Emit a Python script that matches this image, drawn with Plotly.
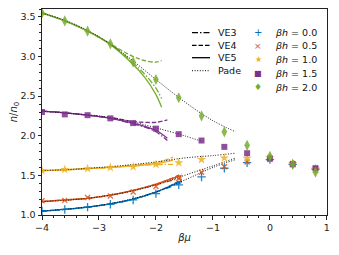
import plotly.graph_objects as go

# ---------------- data ----------------
beta_mu = [-4.0, -3.6, -3.2, -2.8, -2.4, -2.0, -1.6, -1.2, -0.8, -0.4, 0.0, 0.4, 0.8]
n_h00 = [1.05, 1.07, 1.10, 1.135, 1.19, 1.27, 1.38, 1.48, 1.59, 1.66, 1.70, 1.64, 1.58]
n_h05 = [1.18, 1.185, 1.22, 1.24, 1.29, 1.36, 1.46, 1.54, 1.61, 1.67, 1.70, 1.65, 1.59]
n_h10 = [1.56, 1.575, 1.585, 1.60, 1.61, 1.64, 1.66, 1.70, 1.72, 1.715, 1.72, 1.65, 1.58]
n_h15 = [2.30, 2.27, 2.26, 2.22, 2.16, 2.09, 2.02, 1.94, 1.86, 1.78, 1.715, 1.64, 1.59]
n_h20 = [3.55, 3.45, 3.32, 3.16, 2.93, 2.71, 2.48, 2.25, 2.05, 1.88, 1.74, 1.64, 1.54]

# virial expansions (VE3, VE4, VE5)
ve_x_low = [-4.0, -3.6, -3.2, -2.8, -2.4, -2.0, -1.8, -1.55]
ve3_h00 = [1.05, 1.07, 1.10, 1.14, 1.20, 1.29, 1.34, 1.41]
ve4_h00 = [1.05, 1.07, 1.10, 1.14, 1.20, 1.29, 1.35, 1.45]
ve5_h00 = [1.05, 1.07, 1.10, 1.14, 1.20, 1.29, 1.35, 1.43]
ve3_h05 = [1.17, 1.19, 1.21, 1.25, 1.31, 1.38, 1.42, 1.47]
ve4_h05 = [1.17, 1.19, 1.21, 1.25, 1.31, 1.39, 1.44, 1.52]
ve5_h05 = [1.17, 1.19, 1.21, 1.25, 1.31, 1.39, 1.44, 1.50]

ve_x_mid = [-4.0, -3.6, -3.2, -2.8, -2.4, -2.0, -1.7]
ve3_h10 = [1.56, 1.57, 1.585, 1.60, 1.62, 1.635, 1.64]
ve4_h10 = [1.56, 1.57, 1.585, 1.60, 1.63, 1.66, 1.73]
ve5_h10 = [1.56, 1.57, 1.585, 1.60, 1.62, 1.65, 1.69]

ve_x_h15 = [-4.0, -3.6, -3.2, -2.8, -2.4, -2.2, -2.0, -1.8]
ve3_h15 = [2.31, 2.29, 2.26, 2.22, 2.15, 2.11, 2.05, 1.94]
ve4_h15 = [2.31, 2.29, 2.26, 2.23, 2.18, 2.17, 2.17, 2.20]
ve5_h15 = [2.31, 2.29, 2.26, 2.22, 2.16, 2.12, 2.07, 1.97]

ve_x_h20 = [-4.0, -3.6, -3.2, -2.8, -2.4, -2.2, -2.0, -1.9]
ve3_h20 = [3.55, 3.45, 3.32, 3.16, 2.92, 2.78, 2.60, 2.47]
ve4_h20 = [3.55, 3.45, 3.32, 3.16, 3.00, 2.95, 2.93, 2.95]
ve5_h20 = [3.55, 3.45, 3.32, 3.15, 2.90, 2.74, 2.52, 2.36]

# Pade approximants
pade_x = [-4.0, -3.5, -3.0, -2.5, -2.0, -1.5, -1.0, -0.6]
pade_h00 = [1.05, 1.08, 1.12, 1.19, 1.29, 1.44, 1.60, 1.70]
pade_h05 = [1.17, 1.19, 1.23, 1.29, 1.38, 1.50, 1.62, 1.72]
pade_h10 = [1.56, 1.575, 1.60, 1.63, 1.67, 1.72, 1.75, 1.78]
pade_h20 = [3.55, 3.43, 3.25, 3.00, 2.71, 2.43, 2.19, 2.05]
pade_x_h15 = [-4.0, -3.5, -3.0, -2.5, -2.0, -1.5, -1.2]
pade_h15 = [2.31, 2.28, 2.25, 2.19, 2.10, 2.00, 1.93]

labels = ["<i>βh</i> = 0.0", "<i>βh</i> = 0.5", "<i>βh</i> = 1.0",
          "<i>βh</i> = 1.5", "<i>βh</i> = 2.0"]
line_labels = ["VE3", "VE4", "VE5", "Pade"]
colors = ["#0072BD", "#D95319", "#EDB120", "#7E2F8E", "#77AC30"]
symbols = ["cross-thin", "x-thin", "star", "square", "diamond-tall"]
glyphs = ["+", "×", "★", "■", "♦"]
sizes = [6, 5, 7, 6, 8]

DASH_VE3 = "6px,2px,1.5px,2px"
DASH_VE4 = "4.5px,2px"
DASH_PADE = "1px,1.6px"

series = [
    (ve_x_low, ve3_h00, ve4_h00, ve5_h00, pade_x, pade_h00, n_h00),
    (ve_x_low, ve3_h05, ve4_h05, ve5_h05, pade_x, pade_h05, n_h05),
    (ve_x_mid, ve3_h10, ve4_h10, ve5_h10, pade_x, pade_h10, n_h10),
    (ve_x_h15, ve3_h15, ve4_h15, ve5_h15, pade_x_h15, pade_h15, n_h15),
    (ve_x_h20, ve3_h20, ve4_h20, ve5_h20, pade_x, pade_h20, n_h20),
]

fig = go.Figure()

# VE lines
for (vx, v3, v4, v5, px, pv, nv), c in zip(series, colors):
    for vals, dash in ((v3, DASH_VE3), (v4, DASH_VE4), (v5, "solid")):
        fig.add_trace(go.Scatter(x=vx, y=vals, mode="lines", showlegend=False,
                                 line=dict(color=c, width=1.3, dash=dash, shape="spline")))

# Pade lines
for (vx, v3, v4, v5, px, pv, nv) in series:
    fig.add_trace(go.Scatter(x=px, y=pv, mode="lines", showlegend=False,
                             line=dict(color="#111111", width=1.0, dash=DASH_PADE, shape="spline")))

# markers
for (vx, v3, v4, v5, px, pv, nv), c, s, sz, lab in zip(series, colors, symbols, sizes, labels):
    thin = s.endswith("-thin")
    fig.add_trace(go.Scatter(
        x=beta_mu, y=nv, mode="markers", name=lab, showlegend=False,
        marker=dict(symbol=s, size=sz, color=c, opacity=0.85,
                    line=dict(color=c, width=1.3 if thin else 0))))

# ---------------- manual legend (paper coordinates) ----------------
def px2x(p):
    return (p - 42) / 285.0

def py2y(p):
    return (215 - p) / 206.0

shapes = []
annotations = []
line_rows = [32.7, 45.3, 57.7, 70.7]
line_styles = [(DASH_VE3, 1.3), (DASH_VE4, 1.3), ("solid", 1.3), (DASH_PADE, 1.0)]
for row, (dash, w), lab in zip(line_rows, line_styles, line_labels):
    shapes.append(dict(type="line", xref="paper", yref="paper",
                       x0=px2x(192), x1=px2x(210), y0=py2y(row), y1=py2y(row),
                       line=dict(color="black", width=w, dash=dash)))
    annotations.append(dict(text=lab, xref="paper", yref="paper", x=px2x(216), y=py2y(row),
                            xanchor="left", yanchor="middle", showarrow=False,
                            font=dict(size=9.5, color="#111111")))

mark_rows = [32.3, 45.7, 59.3, 73.3, 87.3]
glyph_sizes = [10, 9, 8, 8, 9]
for row, g, c, gs, lab in zip(mark_rows, glyphs, colors, glyph_sizes, labels):
    annotations.append(dict(text=g, xref="paper", yref="paper", x=px2x(258), y=py2y(row),
                            xanchor="center", yanchor="middle", showarrow=False,
                            font=dict(size=gs, color=c)))
    annotations.append(dict(text=lab, xref="paper", yref="paper", x=px2x(273), y=py2y(row),
                            xanchor="left", yanchor="middle", showarrow=False,
                            font=dict(size=9.5, color="#111111")))

axis_common = dict(
    showline=True, linecolor="#222222", linewidth=1, mirror=True,
    ticks="outside", ticklen=3.5, tickwidth=0.8, tickcolor="#222222",
    showgrid=False, zeroline=False, automargin=False, ticklabeloverflow="allow",
    tickfont=dict(family="DejaVu Sans", size=9.5, color="#222222"),
)

# the page body adds an 8px offset, so the figure is sized to fill the rest of the window
fig.update_layout(
    width=331, height=247,
    margin=dict(l=34, r=12, t=1, b=40),
    paper_bgcolor="white", plot_bgcolor="white",
    font=dict(family="DejaVu Sans", size=9.5, color="#222222"),
    showlegend=False,
    shapes=shapes, annotations=annotations,
    xaxis=dict(range=[-4, 1.002], tickvals=[-4, -3, -2, -1, 0, 1],
               minor=dict(dtick=0.2, ticks="outside", ticklen=2, tickcolor="#222222"),
               title=dict(text="<i>βμ</i>", font=dict(size=10), standoff=2), **axis_common),
    yaxis=dict(range=[1.0, 3.6], dtick=0.5, tickformat=".1f",
               minor=dict(dtick=0.1, ticks="outside", ticklen=2, tickcolor="#222222"),
               title=dict(text="<i>n</i>/<i>n</i><sub>0</sub>", font=dict(size=10), standoff=4),
               **axis_common),
)

fig.write_html("out.html")
